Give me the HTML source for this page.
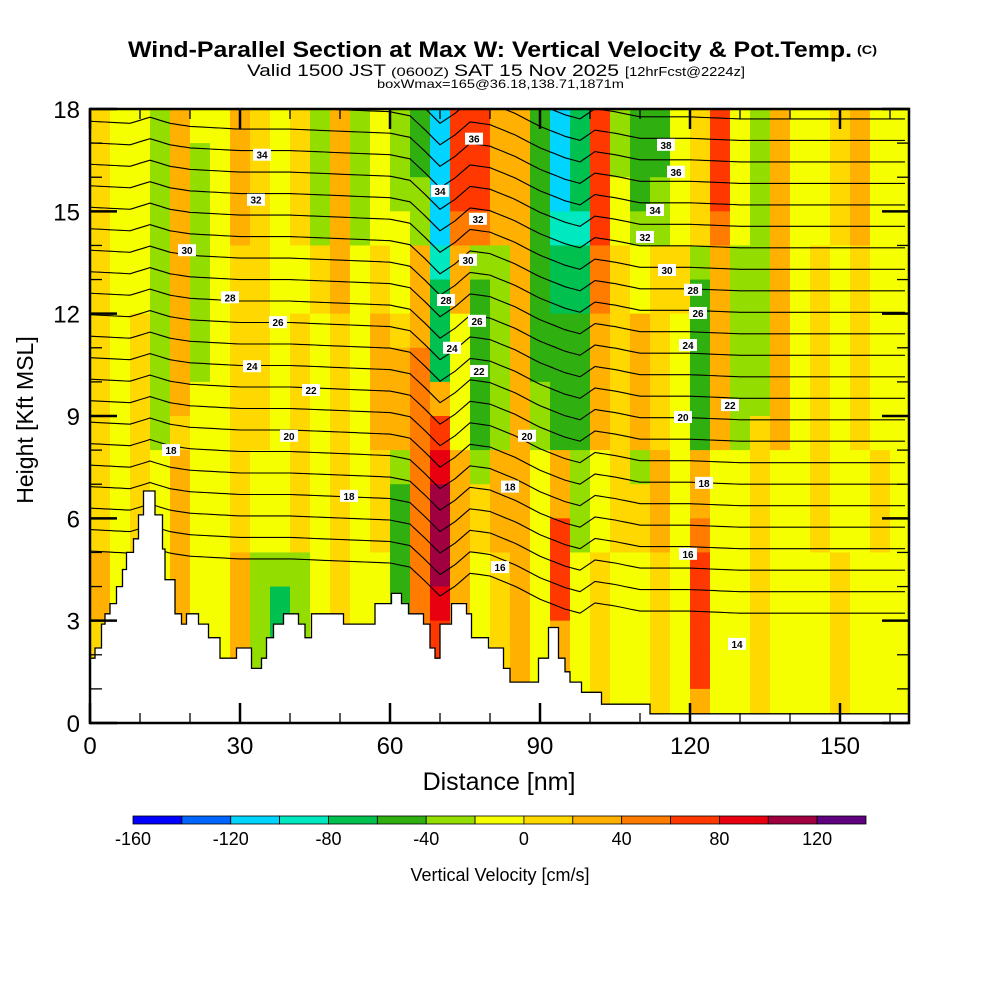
<!DOCTYPE html>
<html><head><meta charset="utf-8"><style>
html,body{margin:0;padding:0;background:#fff}
svg{display:block;font-family:"Liberation Sans",sans-serif}
</style></head><body>
<svg id="chart" xmlns="http://www.w3.org/2000/svg" width="1000" height="1000" viewBox="0 0 1000 1000">
<rect x="0" y="0" width="1000" height="1000" fill="#fff"/>
<text x="128" y="57" font-size="22" font-weight="bold" textLength="724" lengthAdjust="spacingAndGlyphs">Wind-Parallel Section at Max W: Vertical Velocity &amp; Pot.Temp.</text>
<text x="857" y="54" font-size="12" font-weight="bold" textLength="20" lengthAdjust="spacingAndGlyphs">(C)</text>
<text x="247" y="76" font-size="17" textLength="139" lengthAdjust="spacingAndGlyphs">Valid 1500 JST</text>
<text x="391" y="76" font-size="12" textLength="58" lengthAdjust="spacingAndGlyphs">(0600Z)</text>
<text x="454" y="76" font-size="17" textLength="165" lengthAdjust="spacingAndGlyphs">SAT 15 Nov 2025</text>
<text x="625" y="76" font-size="13" textLength="120" lengthAdjust="spacingAndGlyphs">[12hrFcst@2224z]</text>
<text x="377" y="88" font-size="12" textLength="247" lengthAdjust="spacingAndGlyphs">boxWmax=165@36.18,138.71,1871m</text>
<defs><clipPath id="plotclip"><rect x="90" y="109" width="819" height="614"/></clipPath></defs>
<g id="heat" clip-path="url(#plotclip)"></g>
<g id="contours" clip-path="url(#plotclip)"></g>
<g id="terrain" clip-path="url(#plotclip)"></g>
<g id="clabels"></g>
<g id="axes"></g>
<g id="cbar"></g>
<text transform="translate(33,420) rotate(-90)" text-anchor="middle" font-size="23">Height [Kft MSL]</text>
<text x="499" y="790" text-anchor="middle" font-size="25">Distance [nm]</text>
<text x="500" y="881" text-anchor="middle" font-size="18">Vertical Velocity [cm/s]</text>
</svg>
<script>
// ---- data ----
const xTicks = [0,30,60,90,120,150];
const yTicks = [0,3,6,9,12,15,18];
const cbLevels = [-160,-140,-120,-100,-80,-60,-40,-20,0,20,40,60,80,100,120,140];
const cbColors = ["#0000ff","#0066ff","#00d4ff","#00e8c0","#00c050","#30b010","#94dd00","#f5ff00","#ffd800","#ffb000","#ff7c00","#ff3800","#e80010","#a00040","#600080"];
const cbTickLabels = [-160,-120,-80,-40,0,40,80,120];
// vertical velocity grid (cm/s), 4 nm columns, 1 kft rows, top row first (17-18 kft)
const wRow17=[10,-10,-10,-40,30,-10,-10,30,10,-10,10,-30,30,-30,-10,-30,-50,-110,70,70,30,30,-50,-110,-70,70,-30,-50,-50,-10,10,70,-10,-30,30,-10,-10,10,30,-10,-10];
const wRow16=[10,-10,-10,-40,30,-30,-10,30,10,-10,10,-30,30,-30,-10,-30,-50,-110,70,70,30,30,-50,-110,-70,70,-30,-50,-50,-10,10,70,-10,-30,30,-10,-10,10,30,-10,-10];
const wRow15=[10,-10,-10,-40,30,-30,-10,30,10,-10,10,-30,30,-30,-10,-30,-30,-110,70,70,30,30,-50,-110,-70,70,-10,-50,-30,-10,10,70,-10,-30,30,-10,-10,10,30,-10,-10];
const wRow14=[10,-10,-10,-40,30,-30,-10,30,10,-10,10,-30,30,-30,-10,-10,-30,-110,50,50,30,30,-50,-90,-90,70,-10,-30,-30,-10,10,50,-10,-30,30,-10,-10,10,30,-10,-10];
const wRow13=[10,-10,-10,-40,30,-30,-10,10,10,-10,-10,10,30,-10,10,-10,30,-90,30,-30,-30,30,-50,-70,-70,50,10,-10,10,10,-30,30,-30,-30,30,-10,10,-10,10,-10,-10];
const wRow12=[10,-10,-10,-40,30,-30,-10,10,10,-10,-10,10,30,-10,10,-10,30,-70,30,-50,-30,30,-50,-70,-70,50,10,-10,10,10,-50,30,-30,-30,30,-10,10,-10,10,-10,-10];
const wRow11=[10,-10,10,-40,30,-30,-10,10,10,-10,10,-10,10,-10,30,10,30,-70,-10,-60,-30,30,-50,-60,-50,30,10,30,10,-10,-50,30,-30,-30,30,-10,10,-10,10,-10,-10];
const wRow10=[10,-10,10,-40,30,-30,-10,10,10,-10,10,-10,10,-10,30,30,50,-70,-10,-60,-30,30,-50,-60,-50,30,10,30,10,-10,-50,30,-30,-30,30,-10,10,-10,10,-10,-10];
const wRow9=[10,-10,10,-40,30,-10,-10,10,10,-10,10,-10,10,-10,30,30,50,30,-10,-60,-30,30,-30,-60,-50,30,10,30,10,-10,-50,30,-30,-30,30,-10,10,-10,10,-10,-10];
const wRow8=[10,-10,10,-30,10,-10,-10,10,10,-10,10,-10,10,-10,30,30,50,70,-10,-60,-30,30,-30,-60,-50,30,10,30,10,-10,-50,30,-30,10,30,-10,10,-10,10,-10,-10];
const wRow7=[10,-10,10,-10,30,-10,-10,10,-10,-10,10,-10,10,-10,10,-30,50,90,30,-30,30,30,-10,30,-30,-10,10,-30,30,-10,30,-10,-10,10,-10,-10,10,-10,-10,10,-10];
const wRow6=[10,-10,10,-10,30,-10,-10,10,-10,-10,10,-10,10,-10,10,-50,50,110,30,10,30,30,-10,30,-30,-10,10,10,30,-10,30,-10,-10,10,-10,-10,10,-10,-10,10,-10];
const wRow5=[10,-10,10,-10,30,-10,-10,10,-10,-10,10,-10,10,-10,10,-50,50,110,30,10,30,30,-10,70,-30,-10,10,10,30,-10,50,-10,-10,10,-10,-10,10,-10,-10,10,-10];
const wRow4=[30,-10,10,-10,30,-10,-10,30,-30,-30,-30,-10,10,-10,-10,-50,50,110,30,-10,10,30,-10,70,-10,10,-10,-10,10,-10,70,-10,-10,10,-10,-10,-10,10,-10,-10,-10];
const wRow3=[30,-10,10,-10,30,-10,-10,30,-30,-70,-30,-10,10,-10,-10,-50,50,90,30,-10,10,30,-10,70,-10,10,-10,-10,10,-10,70,-10,-10,10,-10,-10,-10,10,-10,-10,-10];
const wRow2=[10,-10,10,-10,30,-10,-10,30,-30,-70,-30,-10,10,-10,-10,-10,50,70,30,-10,10,30,-10,30,-10,10,-10,-10,10,-10,70,-10,-10,10,-10,-10,-10,10,-10,-10,-10];
const wRow1=[10,-10,10,-10,30,-10,-10,30,-30,-30,-30,-10,10,-10,-10,-10,50,70,30,-10,10,30,-10,30,-10,10,-10,-10,10,-10,70,-10,-10,10,-10,-10,-10,10,-10,-10,-10];
const wRow0=[10,-10,10,-10,30,-10,-10,30,-10,-10,-10,-10,10,-10,-10,-10,30,30,30,-10,10,30,-10,30,-10,10,-10,-10,10,-10,30,-10,-10,10,-10,-10,-10,10,-10,-10,-10];
const wRows=[wRow17,wRow16,wRow15,wRow14,wRow13,wRow12,wRow11,wRow10,wRow9,wRow8,wRow7,wRow6,wRow5,wRow4,wRow3,wRow2,wRow1,wRow0];
const colWidthNm = 4;
// potential temperature contours
const thetaLevels=[14,15,16,17,18,19,20,21,22,23,24,25,26,27,28,29,30,31,32,33,34,35,36,37,38,39,40];
const thetaRefHeight=[5.04,5.67,6.3,6.93,7.56,8.19,8.82,9.45,10.08,10.71,11.34,11.97,12.6,13.23,13.86,14.49,15.12,15.75,16.38,17.01,17.64,18.27,18.9,19.53,20.16,20.79,21.42];
const dispNm=[0,8,12,16,20,30,40,50,60,64,67,70,73,76,80,85,90,95,98,101,105,110,120,130,140,150,164];
const dispKft=[0,0.06,-0.12,0.06,0.15,0.23,0.23,0.29,0.35,0.47,0.88,1.32,1.03,0.65,0.73,1.03,1.41,1.7,1.82,1.52,1.61,1.76,1.76,1.82,1.82,1.82,1.82];
// terrain: [start nm, height kft] steps
const terrainStart=[0,1,2.3,3,4,5.3,6.5,7.3,8.7,9.7,10.7,13,14.5,15,17,18.3,19.3,21.7,23.7,26,29.3,32.3,34.3,35.3,36.7,38.7,41.7,43,44.3,50.7,57,60.3,62.3,63.7,66.7,68,69,70,72.3,75.3,76.3,79.7,82.7,84,89.7,91.7,93.7,95,96,98.3,102.3,112];
const terrainHeight=[1.9,2.2,2.9,3.2,3.5,4.0,4.5,5.0,5.4,6.1,6.8,6.1,5.1,4.2,3.2,2.9,3.2,2.9,2.5,1.9,2.2,1.6,1.9,2.5,2.9,3.2,2.9,2.5,3.2,2.9,3.5,3.8,3.5,3.2,2.9,2.2,1.9,2.9,3.5,3.2,2.5,2.2,1.6,1.2,1.9,2.8,1.9,1.5,1.2,0.9,0.55,0.27];
// contour labels: text, x nm, height kft
const clText=["34","32","30","28","26","24","22","20","18","18","36","34","32","30","28","26","24","22","20","18","16","38","36","34","32","30","28","26","24","22","20","18","16","14"];
const clNm=[34.4,33.2,19.4,28,37.6,32.4,44.2,39.8,16.2,51.8,76.8,70,77.6,75.6,71.2,77.4,72.4,77.8,87.4,84,82,115.2,117.2,113,111,115.4,120.6,121.6,119.6,128,118.6,122.8,119.6,129.4];
const clKft=[16.66,15.34,13.86,12.48,11.75,10.46,9.76,8.42,8.0,6.66,17.13,15.6,14.78,13.58,12.4,11.79,11.0,10.32,8.42,6.93,4.57,16.95,16.16,15.04,14.25,13.28,12.7,12.02,11.08,9.32,8.97,7.04,4.96,2.32];

// ---- scales ----
const X0=90, X1=909, Y0=723, Y1=109, XMAX=163.8, YMAX=18;
const sx = v => X0 + v/XMAX*(X1-X0);
const sy = v => Y0 - v/YMAX*(Y0-Y1);
const NS="http://www.w3.org/2000/svg";
function mk(tag, attrs, parent){const e=document.createElementNS(NS,tag);for(const k in attrs)e.setAttribute(k,attrs[k]);parent.appendChild(e);return e;}
function colorFor(w){for(let i=0;i<cbColors.length;i++){if(w<cbLevels[i+1])return cbColors[i];}return cbColors[cbColors.length-1];}

// heatmap
const heat=document.getElementById('heat');
wRows.forEach((row,ri)=>{
  const top = YMAX - ri;
  row.forEach((w,ci)=>{
    const r=mk('rect',{x:sx(ci*colWidthNm),y:sy(top),width:sx((ci+1)*colWidthNm)-sx(ci*colWidthNm)+0.6,height:sy(top-1)-sy(top)+0.6,fill:colorFor(w)},heat);
    
    
  });
});

// contours
function disp(nm){for(let i=0;i<dispNm.length-1;i++){if(nm<=dispNm[i+1]){const t=(nm-dispNm[i])/(dispNm[i+1]-dispNm[i]);return dispKft[i]+t*(dispKft[i+1]-dispKft[i]);}}return dispKft[dispKft.length-1];}
const cont=document.getElementById('contours');
thetaLevels.forEach((th,k)=>{
  let d='';
  for(let nm=0;nm<=XMAX;nm+=1){const h=thetaRefHeight[k]-disp(nm);d+=(nm?'L':'M')+sx(nm).toFixed(1)+','+sy(h).toFixed(1);}
  const p=mk('path',{d:d,fill:'none',stroke:'#000','stroke-width':1.1},cont);
  
  
});

// terrain
const ter=document.getElementById('terrain');
let td='M'+sx(0)+','+sy(0);
terrainStart.forEach((s,i)=>{
  const e = i<terrainStart.length-1?terrainStart[i+1]:XMAX;
  td+='L'+sx(s).toFixed(1)+','+sy(terrainHeight[i]).toFixed(1)+'L'+sx(e).toFixed(1)+','+sy(terrainHeight[i]).toFixed(1);
});
td+='L'+sx(XMAX)+','+sy(0)+'Z';
const tp=mk('path',{d:td,fill:'#fff',stroke:'#000','stroke-width':1.3},ter);



// contour labels
const cl=document.getElementById('clabels');
clText.forEach((t,i)=>{
  const x=sx(clNm[i]), y=sy(clKft[i]);
  const g=mk('g',{},cl);
  
  
  mk('rect',{x:x-9,y:y-6,width:18,height:12,fill:'#fff'},g);
  const tx=mk('text',{x:x,y:y+4,'text-anchor':'middle','font-size':10,'font-weight':'bold'},g);
  tx.textContent=t;
});

// axes
const ax=document.getElementById('axes');
const frame=mk('rect',{x:X0,y:Y1,width:X1-X0,height:Y0-Y1,fill:'none',stroke:'#000','stroke-width':2.5},ax);


for(let v=0;v<=160;v+=10){
  const major=v%30===0, L=major?20:10, x=sx(v);
  mk('line',{x1:x,y1:Y0,x2:x,y2:Y0-L,stroke:'#000','stroke-width':major?2.5:1.3},ax);
  mk('line',{x1:x,y1:Y1,x2:x,y2:Y1+L,stroke:'#000','stroke-width':major?2.5:1.3},ax);
}
for(let v=0;v<=18;v+=1){
  const major=v%3===0, L=major?27:12, y=sy(v);
  mk('line',{x1:X0,y1:y,x2:X0+L,y2:y,stroke:'#000','stroke-width':major?2.5:1.3},ax);
  mk('line',{x1:X1,y1:y,x2:X1-L,y2:y,stroke:'#000','stroke-width':major?2.5:1.3},ax);
}
xTicks.forEach(v=>{
  const t=mk('text',{x:sx(v),y:754,'text-anchor':'middle','font-size':24},ax);
  
  
  t.textContent=v;
});
yTicks.forEach(v=>{
  const t=mk('text',{x:80,y:sy(v)+9,'text-anchor':'end','font-size':24},ax);
  
  
  t.textContent=v;
});

// colorbar
const cb=document.getElementById('cbar');
const CB0=133, CB1=866, cbx=v=>CB0+(v-cbLevels[0])/(cbLevels[cbLevels.length-1]-cbLevels[0])*(CB1-CB0);
cbColors.forEach((c,i)=>{
  const r=mk('rect',{x:cbx(cbLevels[i]),y:816,width:cbx(cbLevels[i+1])-cbx(cbLevels[i]),height:8,fill:c,stroke:'#000','stroke-width':0.8},cb);
  
  
});
cbTickLabels.forEach(v=>{
  const t=mk('text',{x:cbx(v),y:845,'text-anchor':'middle','font-size':18},cb);
  
  
  t.textContent=v;
});
</script>
</body></html>
